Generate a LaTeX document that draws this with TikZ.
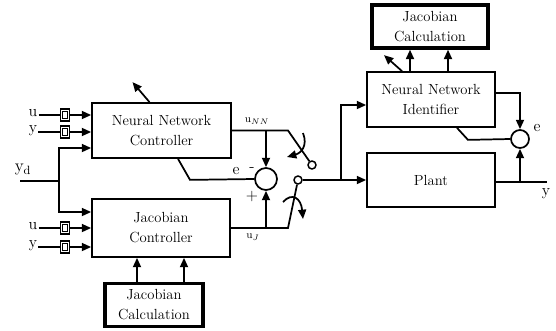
\documentclass[tikz,border=0pt]{standalone}
\usetikzlibrary{arrows.meta,calc}
\tikzset{
  blk/.style={draw, line width=1.3pt, fill=white, inner sep=0pt, align=center, font=\fontsize{11}{15}\selectfont},
  calcblk/.style={blk, line width=2.6pt},
  sumpt/.style={draw, circle, line width=1.3pt, inner sep=0pt},
  termpt/.style={draw, circle, line width=1.1pt, inner sep=0pt, minimum size=6pt, fill=white},
  dly/.style={draw, line width=0.8pt, fill=white, inner sep=0pt, minimum width=7pt, minimum height=9pt,
    path picture={\draw[line width=0.5pt] ([shift={(1.8pt,1.8pt)}]path picture bounding box.south west) rectangle ([shift={(-1.8pt,-1.8pt)}]path picture bounding box.north east);}},
  sig/.style={line width=1.3pt},
  arr/.style={sig, -{Triangle[length=7pt,width=6pt]}},
  lbl/.style={inner sep=0.75pt, font=\fontsize{12}{13}\selectfont},
  sml/.style={inner sep=0.75pt, font=\fontsize{8}{9}\selectfont}
}
\begin{document}
\begin{tikzpicture}[x=0.75pt,y=0.75pt,yscale=-1,xscale=1]
\useasboundingbox (0,0) rectangle (556,330);

% Blocks
\node[blk, minimum width=104.25pt, minimum height=41.25pt] (nnc) at (161.5,130.5) {Neural Network\\Controller};
\node[blk, minimum width=103.5pt, minimum height=43.5pt] (jc) at (161,228) {Jacobian\\Controller};
\node[calcblk, minimum width=73.5pt, minimum height=32pt] (jcalb) at (154,305) {Jacobian\\Calculation};
\node[calcblk, minimum width=87pt, minimum height=32.25pt] (jcalt) at (430,26.5) {Jacobian\\Calculation};
\node[blk, minimum width=96pt, minimum height=41.25pt] (nni) at (431,99.5) {Neural Network\\Identifier};
\node[blk, minimum width=96pt, minimum height=40.5pt] (plant) at (431,180) {Plant};

% Summing junctions and switch terminals
\node[sumpt, minimum size=16.5pt] (sum1) at (266,179) {};
\node[sumpt, minimum size=13.5pt] (sum2) at (520,139) {};
\node[termpt] (t1) at (312,165) {};
\node[termpt] (t0) at (298,180) {};

% Delay elements
\node[dly] (d1) at (65,115) {};
\node[dly] (d2) at (65,132) {};
\node[dly] (d3) at (65,228) {};
\node[dly] (d4) at (65,247) {};

% Text Node
\node[lbl] (u1) at (33,113) {u};
\node[lbl] (y1) at (33,131) {y};
\node[lbl] (u2) at (33,226) {u};
\node[lbl] (y2) at (33,246) {y};
\node[lbl, font=\fontsize{13}{14}\selectfont] (yd) at (23,170) {y$_\mathrm{d}$};
\node[sml] (unn) at (257,121) {u$_{NN}$};
\node[sml] (uj) at (253,237) {u$_J$};
\node[lbl] (e1) at (236,171) {e};
\node[lbl] (m1) at (252,170) {-};
\node[lbl] (p1) at (252,196) {+};
\node[lbl] (e2) at (537,128) {e};
\node[lbl] (yout) at (546,194) {y};

% Inputs
\coordinate (ydin) at (20,181);
\coordinate (ydj) at (59,181);
\draw[sig] (u1.east |- d1) -- (d1);
\draw[sig] (y1.east |- d2) -- (d2);
\draw[sig] (u2.east |- d3) -- (d3);
\draw[sig] (y2.east |- d4) -- (d4);
\draw[arr] (d1) -- (nnc.west |- d1);
\draw[arr] (d2) -- (nnc.west |- d2);
\draw[arr] (d3) -- (jc.west |- d3);
\draw[arr] (d4) -- (jc.west |- d4);
\draw[sig] (ydin) -- (ydj);
\draw[arr] (ydj) |- ($(nnc.west)+(0,17.5)$);
\draw[arr] (ydj) |- ($(jc.west)+(0,-16)$);

% Jacobian calculation into controller
\draw[arr] ($(jcalb.north)+(-17,0)$) coordinate (ja) -- (ja |- jc.south);
\draw[arr] ($(jcalb.north)+(30,0)$) coordinate (jb) -- (jb |- jc.south);

% Adaptation arrow of controller
\draw[arr] ($(nnc.north)+(-12,0)$) -- ++(-17,-20);

% Controller outputs and error
\coordinate (swa) at (288,130.5);
\coordinate (swb) at (288,228);
\draw[sig] (nnc.east) -- (swa) -- (t1);
\draw[sig] (jc.east) -- (swb) -- (t0);
\draw[arr] (sum1 |- swa) -- (sum1.north);
\draw[arr] (sum1 |- swb) -- (sum1.south);
\draw[sig] ($(nnc.south)+(16.5,0)$) -- ++(12,21) -- (sum1.west);

% Switch motion
\draw[sig, -{Triangle[length=7pt,width=6pt]}] (303,133) .. controls (308,146) and (301,153) .. (287,157);
\draw[sig, -{Triangle[length=7pt,width=6pt]}] (283,202) .. controls (292,192) and (301,198) .. (303,219);

% Plant input and identifier
\coordinate (br) at (341,180);
\draw[arr] (t0) -- (plant.west);
\draw[arr] (br) |- ($(nni.west)+(0,5.5)$);
\draw[arr] ($(nni.north)+(-21,0)$) coordinate (na) -- (na |- jcalt.south);
\draw[arr] ($(nni.north)+(17,0)$) coordinate (nb) -- (nb |- jcalt.south);
\draw[arr] ($(nni.north)+(-29,0)$) -- ++(-18,-16);

% Identifier error
\coordinate (yend) at (547,182);
\draw[sig] (plant.east |- yend) -- (yend);
\draw[arr] (sum2 |- yend) -- (sum2.south);
\draw[arr] ($(nni.east)+(0,-6.5)$) -| (sum2.north);
\draw[sig] ($(nni.south)+(26,0)$) -- ++(11,12) -- (sum2.west);

\end{tikzpicture}
\end{document}
